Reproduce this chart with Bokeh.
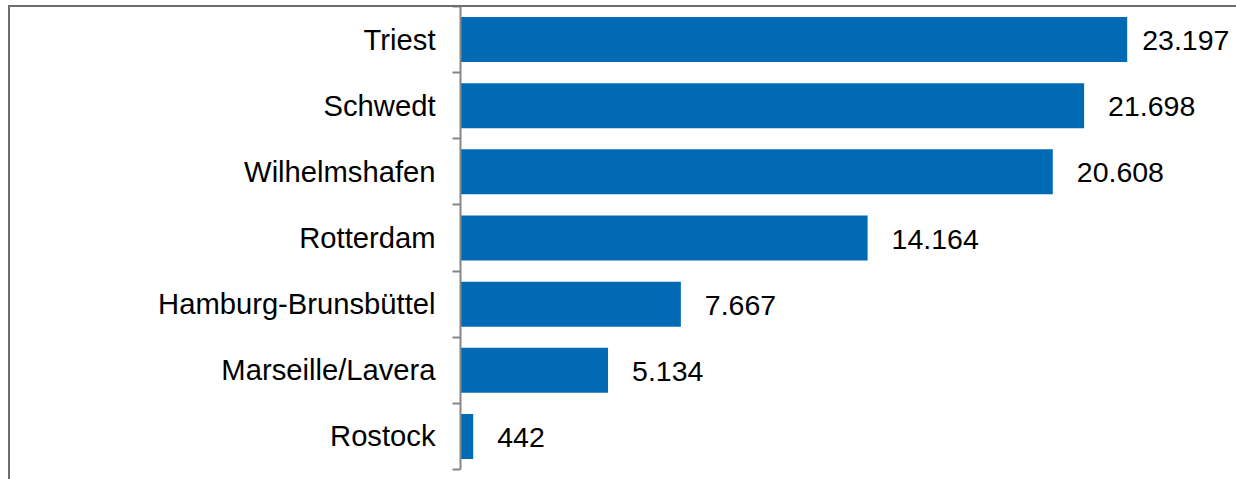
from bokeh.plotting import figure
from bokeh.models import ColumnDataSource, Range1d, FixedTicker, LinearAxis, InlineStyleSheet
from bokeh.embed import file_html
from bokeh.resources import INLINE
from bokeh.core.properties import value

# Data (top to bottom)
ports = ["Triest", "Schwedt", "Wilhelmshafen", "Rotterdam", "Hamburg-Brunsbüttel", "Marseille/Lavera", "Rostock"]
volumes = [23197, 21698, 20608, 14164, 7667, 5134, 442]
volume_labels = ["23.197", "21.698", "20.608", "14.164", "7.667", "5.134", "442"]

n = len(ports)
ypos = [n - 1 - i + 0.5 for i in range(n)]
label_offsets = [15 if v == max(volumes) else 24 for v in volumes]

src = ColumnDataSource(dict(port=ports, vol=volumes, lab=volume_labels, y=ypos, off=label_offsets))

BAR = "#006ab4"
FONT = "Liberation Sans"
FS = "29.2px"

p = figure(width=1236, height=479, output_backend="svg", toolbar_location=None,
           x_range=Range1d(0, 27000), y_range=Range1d(0, n),
           x_axis_location=None, y_axis_location=None,
           min_border_left=460, min_border_right=0, min_border_top=6, min_border_bottom=10)
p.outline_line_color = None
p.grid.visible = False
p.background_fill_color = "white"
p.border_fill_color = "white"

ax = LinearAxis(ticker=FixedTicker(ticks=ypos, minor_ticks=list(range(n + 1))))
ax.major_label_overrides = {y: name for y, name in zip(ypos, ports)}
ax.major_tick_line_color = None
ax.minor_tick_line_color = "#868686"
ax.minor_tick_line_width = 2
ax.minor_tick_out = 8
ax.minor_tick_in = 0
ax.major_tick_out = 8
ax.major_label_standoff = 17
ax.axis_line_color = "#868686"
ax.axis_line_width = 2
ax.major_label_text_font = FONT
ax.major_label_text_font_size = FS
ax.major_label_text_color = "black"
p.add_layout(ax, "left")

p.hbar(y="y", right="vol", left=0, height=0.68, source=src, color=BAR, line_color=None)

p.text(x="vol", y="y", text="lab", source=src, x_offset="off", y_offset=1,
       text_font=value(FONT), text_font_size="28.5px", text_color="black",
       text_baseline="middle", text_align="left")

# outer chart border (left + top), drawn as a decoration over the canvas
p.stylesheets = [InlineStyleSheet(css="""
:host { position: relative; }
:host::after {
  content: ""; position: absolute; left: 8px; top: 5px; right: 0; bottom: 0;
  border-left: 2px solid #6e6e6e; border-top: 2px solid #6e6e6e;
  pointer-events: none; z-index: 10;
}
""")]

open("out.html", "w").write(file_html(p, INLINE))
